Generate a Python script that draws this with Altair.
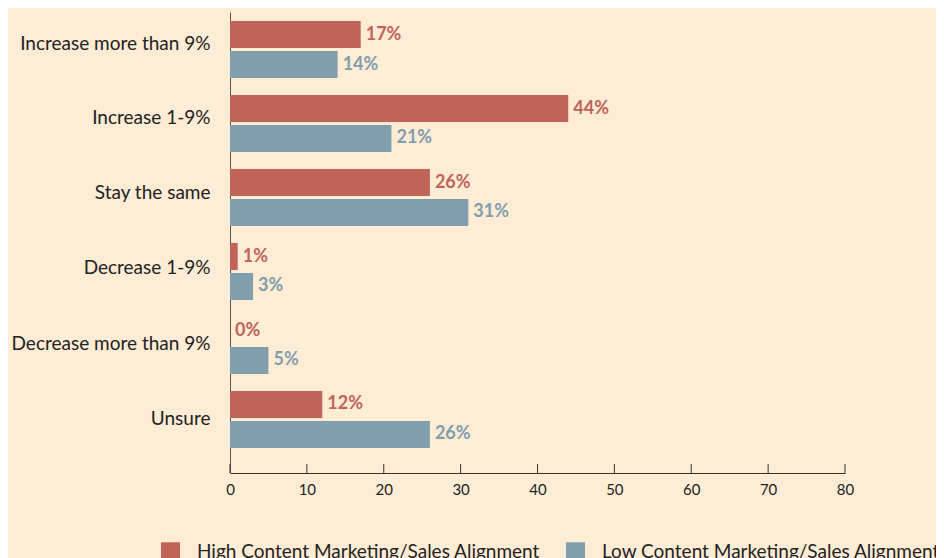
import altair as alt
import pandas as pd

categories = ["Increase more than 9%", "Increase 1-9%", "Stay the same",
              "Decrease 1-9%", "Decrease more than 9%", "Unsure"]
series = ["High Content Marketing/Sales Alignment", "Low Content Marketing/Sales Alignment"]
high_values = [17, 44, 26, 1, 0, 12]
low_values = [14, 21, 31, 3, 5, 26]
x_ticks = [0, 10, 20, 30, 40, 50, 60, 70, 80]
colors = ["#c0645a", "#819eaf"]

rows = []
for c, h, l in zip(categories, high_values, low_values):
    rows.append({"category": c, "series": series[0], "value": h, "label": f"{h}%"})
    rows.append({"category": c, "series": series[1], "value": l, "label": f"{l}%"})
df = pd.DataFrame(rows)
ticks_df = pd.DataFrame({"t": x_ticks})

FONT = "Lato"
W, H = 615, 461

cat_list = "[" + ",".join(f"'{c}'" for c in categories) + "]"
label_shift = "[-6,-6,-5,-3,-1,0][indexof(" + cat_list + ", datum.value)]"

xscale = alt.Scale(domain=[0, 80], nice=False)
yscale = alt.Scale(domain=categories, paddingInner=0.23, paddingOuter=0.23, align=0.265)
color = alt.Color("series:N", scale=alt.Scale(domain=series, range=colors),
                  legend=alt.Legend(title=None, orient="none", direction="horizontal",
                                    legendX=-69, legendY=530, symbolType="square",
                                    symbolSize=361, symbolStrokeWidth=0, symbolOpacity=1,
                                    labelFontSize=19, labelFont=FONT, labelColor="#222222",
                                    labelOffset=17, columnPadding=25, labelLimit=600))

base = alt.Chart(df).encode(
    y=alt.Y("category:N", scale=yscale, sort=categories,
            axis=alt.Axis(title=None, ticks=False, labelFontSize=19, labelFont=FONT,
                          labelColor="#222222", labelPadding=20, domainColor="#555555",
                          labelOffset=alt.ExprRef(label_shift), labelLimit=300)),
    yOffset=alt.YOffset("series:N", sort=series, scale=alt.Scale(domain=series, paddingInner=0.1)),
)

bars = base.mark_bar().encode(
    x=alt.X("value:Q", scale=xscale,
            axis=alt.Axis(title=None, values=x_ticks, ticks=False, grid=False,
                          labelFlush=False, labelFontSize=15, labelFont=FONT,
                          labelColor="#222222", labelPadding=9, domainColor="#333333")),
    color=color,
)

texts = base.mark_text(align="left", baseline="middle", dx=5, fontSize=18,
                       fontWeight="bold", font=FONT).encode(
    x=alt.X("value:Q", scale=xscale),
    text="label:N",
    color=alt.Color("series:N", scale=alt.Scale(domain=series, range=colors), legend=None),
)

tick_marks = alt.Chart(ticks_df).mark_rule(color="#333333", strokeWidth=1).encode(
    x=alt.X("t:Q", scale=xscale),
    y=alt.value(H - 9),
    y2=alt.value(H),
)

chart = alt.layer(bars, texts, tick_marks).properties(
    width=W, height=H,
    autosize=alt.AutoSizeParams(type="none"),
    padding={"left": 222, "top": 4, "right": 91, "bottom": 86},
    background="#feecd5",
).configure_view(stroke=None)

chart.save("out.html", embed_options={"renderer": "svg", "actions": False})
